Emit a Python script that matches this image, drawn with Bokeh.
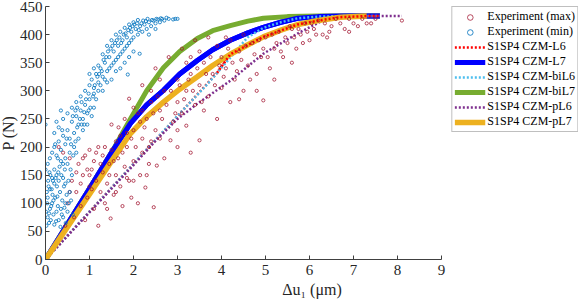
from bokeh.plotting import figure
from bokeh.models import Legend, LegendItem, Range1d, FixedTicker
from bokeh.embed import file_html
from bokeh.resources import INLINE

# ---------------- data ----------------
x_ticks = [0, 1, 2, 3, 4, 5, 6, 7, 8, 9]
y_ticks = [0, 50, 100, 150, 200, 250, 300, 350, 400, 450]

# Experiment (min) scatter
min_x = [0.02,0.05,0.08,0.1,0.12,0.15,0.18,0.2,0.22,0.25,0.28,0.3,0.33,0.35,0.38,0.4,0.42,0.45,0.48,0.5,
         0.03,0.06,0.09,0.04,0.07,0.11,0.14,0.17,0.2,0.23,0.26,0.29,0.32,0.36,0.4,0.44,0.52,0.55,0.58,0.6,
         0.62,0.16,0.24,0.34,0.46,0.01,0.0,0.0,0.05,0.1,
         0.15,0.2,0.25,0.3,0.35,0.4,0.45,0.5,0.55,0.6,0.65,0.7,0.75,0.8,0.85,0.9,0.95,1.0,0.3,0.4,
         0.5,0.6,0.7,0.8,0.9,0.65,0.75,0.85,0.95,1.05,1.1,1.15,0.2,0.25,0.45,0.55,0.7,1.2,1.0,0.35,
         1.05,1.1,1.15,1.2,1.25,1.3,1.35,1.4,1.45,1.5,1.55,1.6,1.65,1.7,1.75,1.8,1.85,1.9,1.95,2.0,
         2.05,2.1,2.15,2.2,2.25,2.3,2.35,2.4,2.45,2.5,2.55,2.6,2.65,2.7,2.8,2.9,3.0,1.3,1.4,1.5,
         1.6,1.7,1.8,1.9,2.0,2.14,1.87,1.2,1.3,1.4,1.5,1.6,1.7,1.8,1.9,2.0,2.1,1.1,1.0,2.35,2.5,
         0.05,0.1,0.15,0.2,0.25,0.3,0.35,0.4,0.45,0.5,0.08,0.13,0.18,0.27,0.37,0.43,0.53,0.57,0.63,0.68,
         0.72,0.78,0.82,0.88,0.92,0.98,1.02,1.08,1.12,1.18,1.22,1.28,1.32,1.38,1.42,1.48,1.52,1.58,1.62,1.68,
         1.72,1.78,1.82,1.88,1.92,1.98,2.02,2.08,2.12,2.18,2.22,2.28,2.32,2.42,2.52,2.62,2.75,2.95,0.58,0.48,
         0.38,0.28,0.22,0.62,0.68,0.72,0.82,0.88,0.98,1.1,1.25,1.35,1.45,1.55,1.65,1.75,1.85,1.95]
min_p = [60,75,65,90,70,100,80,62,110,85,95,70,120,90,105,75,130,100,115,85,
         120,140,155,100,130,150,125,140,160,145,130,155,165,150,170,160,140,120,105,150,
         80,115,68,58,65,85,240,160,170,180,
         190,200,185,210,195,220,205,230,215,245,225,255,240,265,250,275,260,285,235,250,
         260,270,280,290,300,200,215,230,240,255,270,285,225,245,180,190,190,300,310,265,
         320,305,330,315,340,325,350,335,360,345,370,355,380,365,390,375,395,385,405,395,
         410,400,415,405,418,410,422,415,425,420,427,422,428,425,428,427,428,300,315,320,
         335,340,350,360,370,366,329,345,365,380,390,400,405,412,418,422,426,340,330,400,410,
         110,125,145,135,150,140,175,145,135,170,82,95,105,112,80,92,100,160,185,210,
         235,250,240,262,285,295,270,290,310,325,330,335,355,360,370,375,380,385,390,395,
         385,400,402,408,412,415,418,420,408,420,425,424,428,426,428,429,430,428,205,215,
         230,180,205,255,265,270,280,240,265,295,310,320,340,350,360,370,380,390]

# Experiment (max) scatter
max_x = [0.5,0.6,0.7,0.75,0.8,0.85,0.9,0.95,1.0,1.0,1.05,1.1,1.1,1.15,1.2,1.2,1.25,1.3,1.3,1.35,
         1.4,1.45,1.48,1.5,1.55,1.6,1.65,1.7,1.75,1.8,1.85,1.9,1.95,2.0,2.1,2.15,2.2,2.27,2.35,2.46,
         2.53,0.65,0.55,0.9,1.0,1.4,1.6,1.7,1.5,1.66,1.9,1.8,2.0,2.1,2.2,0.4,0.3,
         2.3,2.4,2.5,2.6,2.7,2.84,2.9,3.0,3.0,3.1,3.2,3.2,3.3,3.4,3.5,3.5,3.6,3.7,3.8,3.9,
         4.0,4.0,4.1,4.2,4.3,4.4,4.5,4.6,4.7,4.8,4.9,5.0,5.1,5.2,5.3,5.4,5.5,5.6,5.7,5.8,
         5.9,6.0,6.1,6.2,6.3,6.5,6.6,6.8,7.0,7.2,7.4,7.5,8.1,2.5,2.8,3.1,3.4,3.7,2.2,2.6,
         3.3,4.5,4.2,3.0,3.6,4.4,4.8,5.2,3.3,2.7,2.4,4.95,5.6,6.4,6.9,7.1,
         0.45,0.55,0.7,0.8,0.85,0.95,1.05,1.15,1.25,1.35,1.45,1.55,1.6,1.75,1.85,1.95,2.05,2.15,2.25,2.35,
         2.45,2.55,2.65,2.75,2.85,2.95,3.05,3.15,3.25,3.35,3.45,3.55,3.65,3.75,3.85,3.95,4.05,4.15,4.25,4.35,
         4.45,4.55,4.65,4.75,4.85,4.95,5.05,5.15,5.25,5.35,5.45,5.55,5.65,5.75,5.85,5.95,6.05,6.15,6.35,6.45,
         6.7,6.9,7.3,2.0,2.3,2.6,3.0,2.2,2.4,2.0,1.85,3.9,4.1,3.5,3.2]
max_p = [100,140,120,170,95,150,185,110,130,195,160,90,175,140,60,200,120,155,185,100,
         135,170,73,195,115,150,180,130,95,165,200,140,110,175,100,150,190,128,170,93,
         167,75,180,70,150,90,210,220,240,235,286,250,230,260,215,190,200,
         250,280,230,265,300,212,245,280,320,260,238,300,330,275,212,310,350,290,330,250,
         305,360,340,280,320,370,300,345,385,330,360,395,340,375,405,360,385,410,375,400,
         420,390,410,425,400,415,428,410,420,428,420,428,425,340,360,375,390,395,310,320,
         360,400,390,230,265,285,300,320,190,180,210,283,350,395,405,415,
         60,120,155,135,180,160,125,190,170,200,150,175,120,190,145,215,200,245,235,200,
         260,290,250,275,300,260,310,285,320,300,340,280,330,360,310,345,325,375,350,335,
         355,380,320,365,390,375,360,400,385,370,395,415,395,410,385,405,420,400,420,405,
         420,428,420,140,150,215,200,265,300,270,225,380,395,370,350]

# Model curves
l6_x = [0, 1, 2, 3, 3.9, 4.2, 4.95, 5.73, 6.2, 6.7, 7.3, 7.6]
l6_p = [0, 85, 170, 255, 332, 365, 396, 418, 425, 431, 433, 433]

l7_x = [0, 0.5, 1, 1.5, 1.93, 2.3, 2.68, 3.05, 3.45, 3.8, 4.2, 4.6, 4.95, 5.35, 5.73, 6.2, 6.8, 7.6]
l7_p = [0, 63, 126, 190, 242, 275, 301, 330, 354, 373, 390, 403, 413, 422, 429, 432, 433, 433]

bil6_x = [0, 1, 2, 2.9, 3.68, 4.2, 4.59, 4.95, 5.35, 5.73, 6.2, 6.8, 7.6]
bil6_p = [0, 85, 170, 247, 312, 359, 395, 412, 422, 429, 432, 433, 433]

bil7_x = [0, 0.5, 1, 1.5, 1.93, 2.3, 2.68, 3.05, 3.45, 3.8, 4.2, 4.6, 4.95, 5.5, 6.2, 7.6]
bil7_p = [0, 63, 126, 190, 250, 300, 341, 370, 393, 407, 416, 424, 429, 432, 433, 433]

pl6_x = [0, 1, 2, 2.55, 3.0, 3.45, 4.2, 4.95, 5.73, 6.3, 6.8, 7.5, 8.1]
pl6_p = [0, 84, 168, 215, 250, 277, 318, 366, 402, 425, 431, 433, 433]

pl7_x = [0, 0.5, 1, 1.5, 1.93, 2.3, 2.68, 3.05, 3.45, 3.8, 4.2, 4.6, 4.95, 5.35, 5.73, 6.2, 6.7, 7.3]
pl7_p = [0, 58, 116, 175, 224, 254, 280, 303, 325, 345, 365, 382, 396, 408, 418, 425, 431, 433]

labels = ["Experiment (max)", "Experiment (min)", "S1SP4 CZM-L6", "S1SP4 CZM-L7",
          "S1SP4 CZM-biL6", "S1SP4 CZM-biL7", "S1SP4 CZM-pL6", "S1SP4 CZM-pL7"]

# ---------------- figure ----------------
FONT = "Liberation Serif"
AX = "#404040"
PX_PER_UNIT = 44.0
FRAME_W = 533
X_END = FRAME_W / PX_PER_UNIT

p = figure(output_backend="svg", toolbar_location=None,
           x_range=Range1d(0, X_END), y_range=Range1d(0, 450),
           frame_width=FRAME_W, frame_height=253,
           min_border_left=45, min_border_right=0, min_border_top=6, min_border_bottom=37)
p.styles = {"margin-left": "-4px"}
p.outline_line_color = None
p.grid.visible = False
p.background_fill_color = "white"

for ax in (p.xaxis[0], p.yaxis[0]):
    ax.axis_line_color = AX
    ax.major_tick_line_color = AX
    ax.major_tick_in = 4
    ax.major_tick_out = 0
    ax.minor_tick_line_color = None
    ax.major_label_text_font = FONT
    ax.major_label_text_font_size = "15px"
    ax.major_label_text_color = "#262626"
    ax.axis_label_text_font = FONT
    ax.axis_label_text_font_size = "16px"
    ax.axis_label_text_font_style = "normal"
    ax.axis_label_text_color = "#262626"

p.xaxis.bounds = (0, 9)
p.xaxis.ticker = FixedTicker(ticks=x_ticks)
p.yaxis.ticker = FixedTicker(ticks=y_ticks)
p.xaxis.axis_label = "Δu₁ (μm)"
p.yaxis.axis_label = "P (N)"
p.xaxis.major_label_standoff = 5
p.xaxis.axis_label_standoff = 3
p.yaxis.major_label_standoff = 3
p.yaxis.axis_label_standoff = 0

# L6 first (hidden under biL6 where they coincide)
r_l6 = p.line(l6_x, l6_p, line_color="#FF0000", line_width=2.5, line_dash="2 2")
r_l7 = p.line(l7_x, l7_p, line_color="#0000FF", line_width=5)
r_bil7 = p.line(bil7_x, bil7_p, line_color="#77AC30", line_width=5)
p.line(l7_x, l7_p, line_color="#0000FF", line_width=5)
r_bil6 = p.line(bil6_x, bil6_p, line_color="#4DBEEE", line_width=2.5, line_dash="2 2")
r_pl6 = p.line(pl6_x, pl6_p, line_color="#7E2F8E", line_width=2.5, line_dash="2 2")
r_pl7 = p.line(pl7_x, pl7_p, line_color="#EDB120", line_width=5.5)
# L6 branch that runs along pL7 shows on top of it
p.line(l6_x[4:], l6_p[4:], line_color="#FF0000", line_width=2.5, line_dash="2 2")

r_max = p.scatter(max_x, max_p, marker="circle", size=3.2, fill_color=None,
                  line_color="#A2142F", line_width=0.9, line_alpha=0.85)
r_min = p.scatter(min_x, min_p, marker="circle", size=3.2, fill_color=None,
                  line_color="#0072BD", line_width=0.9, line_alpha=0.9)

legend = Legend(items=[
    LegendItem(label=labels[0], renderers=[r_max]),
    LegendItem(label=labels[1], renderers=[r_min]),
    LegendItem(label=labels[2], renderers=[r_l6]),
    LegendItem(label=labels[3], renderers=[r_l7]),
    LegendItem(label=labels[4], renderers=[r_bil6]),
    LegendItem(label=labels[5], renderers=[r_bil7]),
    LegendItem(label=labels[6], renderers=[r_pl6]),
    LegendItem(label=labels[7], renderers=[r_pl7]),
], location="top_right")
legend.label_text_font = FONT
legend.label_text_font_size = "12px"
legend.label_text_line_height = 0.95
legend.label_text_color = "#000000"
legend.label_height = 14
legend.glyph_height = 14
legend.glyph_width = 31
legend.label_standoff = 2
legend.spacing = 0
legend.padding = 2
legend.margin = 0
legend.border_line_color = "#808080"
legend.border_line_width = 1
legend.background_fill_alpha = 1
p.add_layout(legend, "center")

open("out.html", "w").write(file_html(p, INLINE))
